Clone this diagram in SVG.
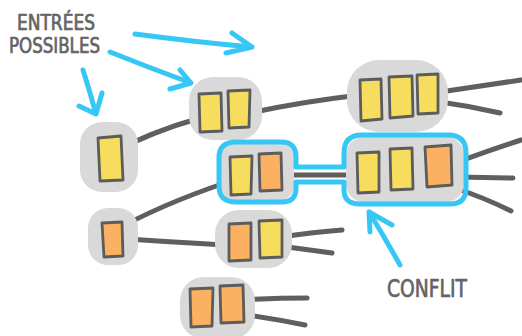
<svg xmlns="http://www.w3.org/2000/svg" width="522" height="336" viewBox="0 0 522 336">
  <style>
    .blob { fill: #d9d9d9; }
    .box { stroke: #5c5c5c; stroke-width: 2.8; stroke-linejoin: round; }
    .y { fill: #f6dd5e; }
    .o { fill: #fcb062; }
    .edge { fill: none; stroke: #5f5f5f; stroke-width: 5; stroke-linecap: round; }
    .blue { fill: none; stroke: #36c7f4; stroke-width: 5; stroke-linecap: round; stroke-linejoin: round; }
    .label { font-family: "DejaVu Sans Condensed", "Liberation Sans Narrow", sans-serif; fill: #646464; stroke: #646464; stroke-width: 0.7; stroke-linejoin: round; }
  </style>

  <!-- links between blocks -->
  <g id="connectors">
    <path class="edge" d="M110,154 Q150,132 200,118"/>
    <path class="edge" d="M250,113 Q300,102 360,95"/>
    <path class="edge" d="M440,92 Q480,86 521,80"/>
    <path class="edge" d="M440,102 Q470,106 500,113"/>
    <path class="edge" d="M112,232 Q160,205 225,183"/>
    <path class="edge" d="M112,238 Q170,242 225,245"/>
    <path class="edge" d="M280,175 L355,175"/>
    <path class="edge" d="M455,163 Q490,150 521,140"/>
    <path class="edge" d="M455,177 L513,178"/>
    <path class="edge" d="M455,188 Q485,198 511,211"/>
    <path class="edge" d="M280,237 Q315,232 342,230"/>
    <path class="edge" d="M280,246 Q310,250 332,253"/>
    <path class="edge" d="M240,300 Q275,298 307,298"/>
    <path class="edge" d="M240,314 Q275,319 305,325"/>
  </g>

  <g id="n1">
    <rect class="blob" x="80" y="122" width="58" height="70" rx="22"/>
    <polygon class="box y" points="98,138 121,136 123,180 100,181"/>
  </g>
  <g id="n2">
    <rect class="blob" x="189" y="77" width="73" height="63" rx="24"/>
    <polygon class="box y" points="199,94 221,93 222,131 200,132"/>
    <polygon class="box y" points="228,91 250,90 249,127 229,128"/>
  </g>
  <g id="n3">
    <rect class="blob" x="347" y="60" width="101" height="72" rx="32"/>
    <polygon class="box y" points="360,80 381,79 382,119 361,121"/>
    <polygon class="box y" points="389,77 412,76 413,116 390,118"/>
    <polygon class="box y" points="417,75 438,74 438,113 418,114"/>
  </g>
  <g id="n4">
    <rect class="blob" x="88" y="208" width="50" height="57" rx="20"/>
    <polygon class="box o" points="102,223 122,222 123,256 104,257"/>
  </g>
  <g id="n5">
    <rect class="blob" x="215" y="210" width="77" height="58" rx="24"/>
    <polygon class="box o" points="229,224 251,223 251,260 229,261"/>
    <polygon class="box y" points="259,221 282,220 282,257 260,258"/>
  </g>
  <g id="n6">
    <rect class="blob" x="180" y="277" width="75" height="62" rx="24"/>
    <polygon class="box o" points="190,289 213,288 212,326 191,327"/>
    <polygon class="box o" points="220,286 243,285 244,322 221,323"/>
  </g>
  <g id="conflict-left">
    <rect class="blob" x="221" y="144" width="73" height="56" rx="14"/>
    <polygon class="box y" points="230,157 252,156 251,194 231,195"/>
    <polygon class="box o" points="259,154 281,153 282,190 260,191"/>
  </g>
  <g id="conflict-right">
    <rect class="blob" x="346" y="137" width="118" height="65" rx="18"/>
    <polygon class="box y" points="357,153 379,152 379,192 358,193"/>
    <polygon class="box y" points="390,149 412,148 413,189 391,190"/>
    <polygon class="box o" points="425,147 451,145 452,185 427,187"/>
  </g>

  <!-- outline around the conflicting pair -->
  <g id="conflict-outline">
    <path class="blue" d="M236,142 L281,142 Q296,142 296,157 L296,167 L344,167 L344,153 Q344,135 362,135 L448,135 Q466,135 466,153 L466,188 Q466,204 450,204 L360,204 Q344,204 344,190 L344,182 L296,182 L296,188 Q296,202 282,202 L236,202 Q219,202 219,186 L219,158 Q219,142 236,142 Z"/>
  </g>

  <!-- annotation arrows -->
  <g id="arrows">
    <path class="blue" d="M135,34 Q195,42 252,47 M232,33 L252,47 L226,53"/>
    <path class="blue" d="M110,52 Q150,68 191,83 M180,70 L191,83 L170,89"/>
    <path class="blue" d="M83,70 Q90,92 96,114 M79,106 L96,114 L102,93"/>
    <path class="blue" d="M400,265 Q385,238 369,212 M370,232 L369,212 L392,225"/>
  </g>

  <g id="labels">
    <text class="label" x="17" y="30" font-size="21" textLength="78" lengthAdjust="spacingAndGlyphs">ENTRÉES</text>
    <text class="label" x="9" y="53" font-size="21" textLength="91" lengthAdjust="spacingAndGlyphs">POSSIBLES</text>
    <text class="label" x="387" y="297" font-size="25" textLength="80" lengthAdjust="spacingAndGlyphs">CONFLIT</text>
  </g>
</svg>
